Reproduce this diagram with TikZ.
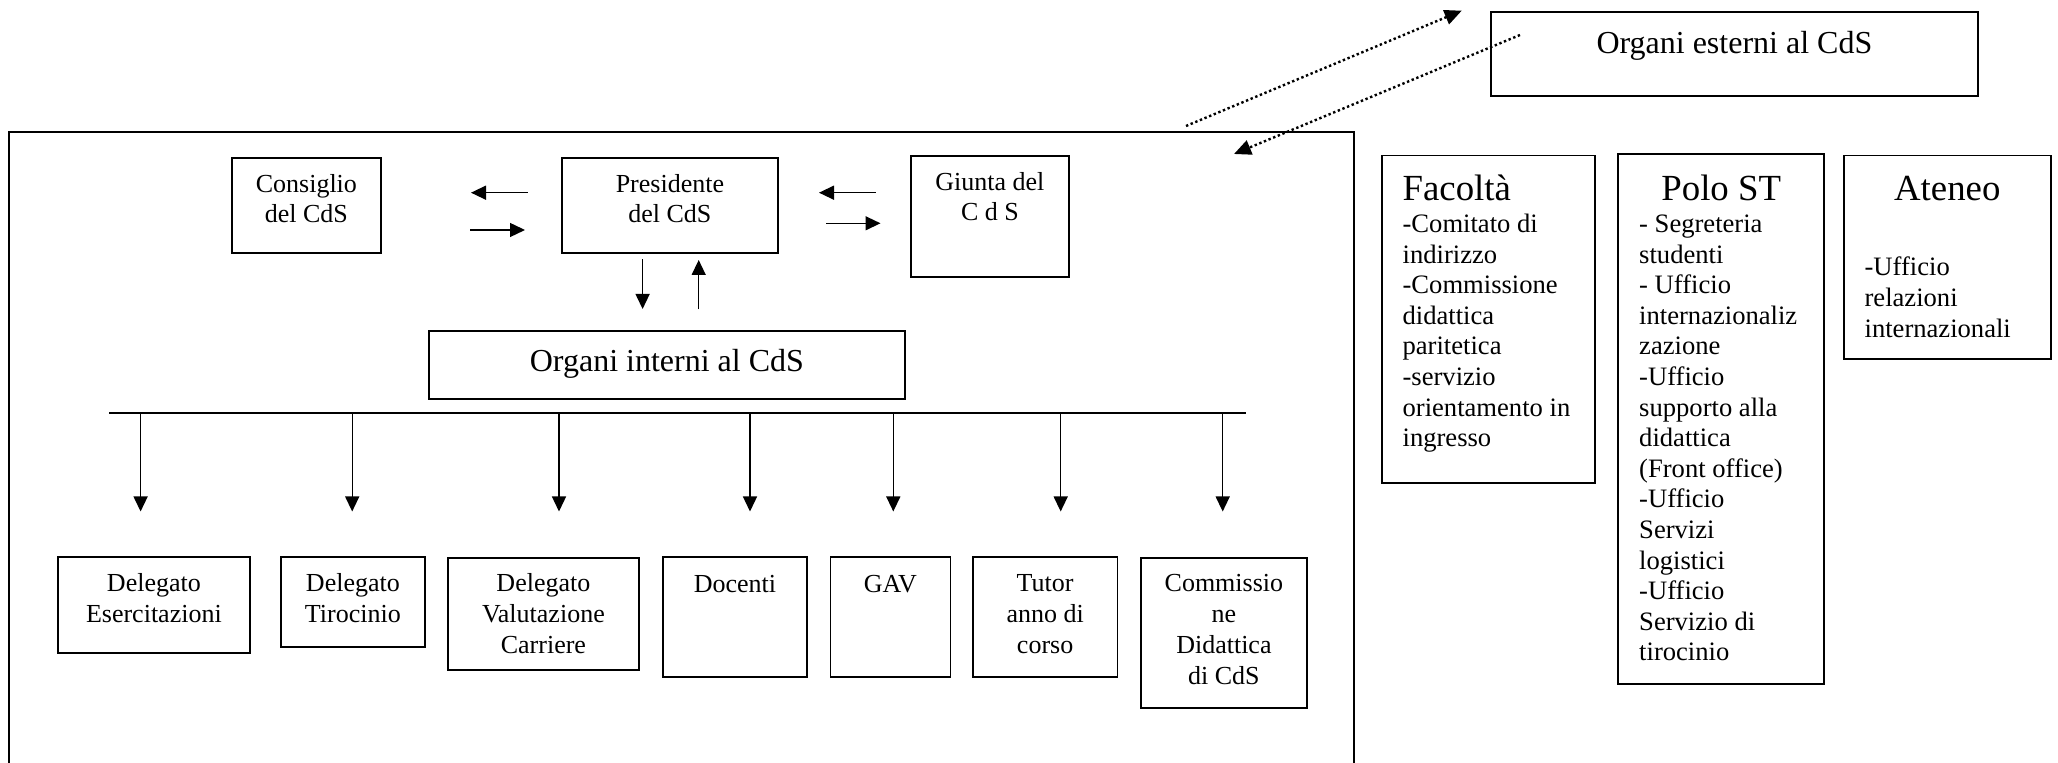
\documentclass[tikz,border=0pt]{standalone}
\usepackage{fontspec}
\setmainfont{Liberation Serif}
\usetikzlibrary{arrows.meta}
% #1 height, #2 width, #3 font size, #4 baselineskip, #5 first baseline, #6 text
\newcommand{\CtrTxt}[6]{\parbox[t][#1][t]{#2}{\lineskiplimit=-100pt\parskip=0pt\centering\fontsize{#3}{#4}\selectfont\rule{0pt}{#5}#6}}
\begin{document}
\begin{tikzpicture}[x=0.5pt,y=-0.5pt,
  box/.style={draw, line width=0.9pt, inner ysep=0pt, inner xsep=2pt, anchor=north west},
  panel/.style={box, inner xsep=10.5pt},
  arr/.style={line width=0.7pt, -{Triangle[length=7.5pt,width=7pt]}},
  dotarr/.style={line width=1.2pt, dash pattern=on 1.2pt off 1.3pt, -{Triangle[length=8.5pt,width=7.5pt]}},
  bus/.style={line width=1.1pt}]
\path[use as bounding box] (0,0) rectangle (2058,763);
\clip (0,0) rectangle (2058,763);

% main frame (bottom edge lies outside the picture)
\node[box, minimum width=672.5pt, minimum height=345pt] (cds) at (8,131) {};

% top row
\node[box, minimum width=74.5pt, minimum height=47.5pt] (cons) at (231,157)
  {\CtrTxt{47.5pt}{70.5pt}{13}{15}{17.35pt}{Consiglio\\del CdS}};
\node[box, minimum width=108pt, minimum height=47.5pt] (pres) at (561,157)
  {\CtrTxt{47.5pt}{104pt}{13}{15}{17.35pt}{Presidente\\del CdS}};
\node[box, minimum width=79pt, minimum height=60.5pt] (giunta) at (910,155)
  {\CtrTxt{60.5pt}{75pt}{13}{15}{17.5pt}{Giunta del\\C d S}};
\node[box, minimum width=238pt, minimum height=34pt] (interni) at (428,330)
  {\CtrTxt{34pt}{234pt}{16}{18.4}{20.3pt}{Organi interni al CdS}};
\node[box, minimum width=243.5pt, minimum height=42pt] (esterni) at (1490,11)
  {\CtrTxt{42pt}{239.5pt}{16}{18.4}{20.9pt}{Organi esterni al CdS}};

% bottom row
\node[box, minimum width=96pt, minimum height=48pt] (eser) at (57,556)
  {\CtrTxt{48pt}{92pt}{13}{15.4}{17.35pt}{Delegato\\Esercitazioni}};
\node[box, minimum width=72pt, minimum height=45pt] (tiro) at (280,556)
  {\CtrTxt{45pt}{68pt}{13}{15.4}{17.35pt}{Delegato\\Tirocinio}};
\node[box, minimum width=95.5pt, minimum height=56pt] (valu) at (447,557)
  {\CtrTxt{56pt}{91.5pt}{13}{15.4}{17pt}{Delegato\\Valutazione\\Carriere}};
\node[box, minimum width=72pt, minimum height=60pt] (doc) at (662,556)
  {\CtrTxt{60pt}{68pt}{13}{15.4}{17.6pt}{Docenti}};
\node[box, minimum width=60pt, minimum height=60pt] (gav) at (829.5,556)
  {\CtrTxt{60pt}{56pt}{13}{15.4}{17.6pt}{GAV}};
\node[box, minimum width=72.25pt, minimum height=60pt] (tutor) at (972,556)
  {\CtrTxt{60pt}{68.25pt}{13}{15.4}{17.35pt}{Tutor\\anno di\\corso}};
\node[box, minimum width=83pt, minimum height=75pt] (comm) at (1140,557)
  {\CtrTxt{75pt}{79pt}{13}{15.4}{17pt}{Commissio\\ne\\Didattica\\di CdS}};

% right panels
\node[panel, minimum width=106.65pt, minimum height=163.65pt] (fac) at (1380.7,154.7)
  {\parbox[t][163.65pt][t]{85.65pt}{\lineskiplimit=-100pt\parskip=0pt\raggedright
   \fontsize{18.4}{21}\selectfont\rule{0pt}{22.3pt}Facoltà\par\vspace{0.9pt}%
   \fontsize{13.3}{15.3}\selectfont -Comitato di\\indirizzo\\-Commissione\\didattica\\paritetica\\-servizio\\orientamento in\\ingresso}};
\node[panel, minimum width=103pt, minimum height=265pt] (polo) at (1617.3,153.3)
  {\parbox[t][265pt][t]{82pt}{\lineskiplimit=-100pt\parskip=0pt
   \fontsize{18.4}{21}\selectfont\centering\rule{0pt}{23pt}Polo ST\par\vspace{0.9pt}%
   \raggedright\fontsize{13.3}{15.3}\selectfont - Segreteria\\studenti\\- Ufficio\\internazionaliz\\zazione\\-Ufficio\\supporto alla\\didattica\\(Front office)\\-Ufficio\\Servizi\\logistici\\-Ufficio\\Servizio di\\tirocinio}};
\node[panel, minimum width=103.65pt, minimum height=101.8pt] (ateneo) at (1842.7,154.7)
  {\parbox[t][101.8pt][t]{82.65pt}{\lineskiplimit=-100pt\parskip=0pt
   \fontsize{18.4}{21}\selectfont\centering\rule{0pt}{22.65pt}Ateneo\par\vspace{22.2pt}%
   \raggedright\fontsize{13.3}{15.3}\selectfont -Ufficio\\relazioni\\internazionali}};

% arrows between top boxes
\coordinate (a1s) at (527.5,192.7); \coordinate (a1e) at (471,192.7);
\coordinate (a2s) at (470,230);     \coordinate (a2e) at (525,230);
\coordinate (a3s) at (875.5,192.7); \coordinate (a3e) at (819,192.7);
\coordinate (a4s) at (826,223.3);   \coordinate (a4e) at (880.5,223.3);
\coordinate (a5s) at (642.6,259.5); \coordinate (a5e) at (642.6,309);
\coordinate (a6s) at (698.7,309.5); \coordinate (a6e) at (698.7,260);
\draw[arr] (a1s) -- (a1e);
\draw[arr] (a2s) -- (a2e);
\draw[arr] (a3s) -- (a3e);
\draw[arr] (a4s) -- (a4e);
\draw[arr] (a5s) -- (a5e);
\draw[arr] (a6s) -- (a6e);

% bus line and arrows down
\coordinate (busL) at (109,413.3);
\coordinate (busR) at (1246,413.3);
\draw[bus] (busL) -- (busR);
\foreach \x/\n in {140.6/1, 352.2/2, 559/3, 750/4, 893.3/5, 1060.7/6, 1222.7/7}{
  \coordinate (d\n s) at (\x,413.3);
  \coordinate (d\n e) at (\x,511.5);
  \draw[arr] (d\n s) -- (d\n e);
}

% dotted arrows to/from external organs
\coordinate (o1s) at (1186,126);
\coordinate (o1e) at (1461.7,10.7);
\coordinate (o2s) at (1520,35);
\coordinate (o2e) at (1234,154);
\draw[dotarr] (o1s) -- (o1e);
\draw[dotarr] (o2s) -- (o2e);
\end{tikzpicture}
\end{document}
